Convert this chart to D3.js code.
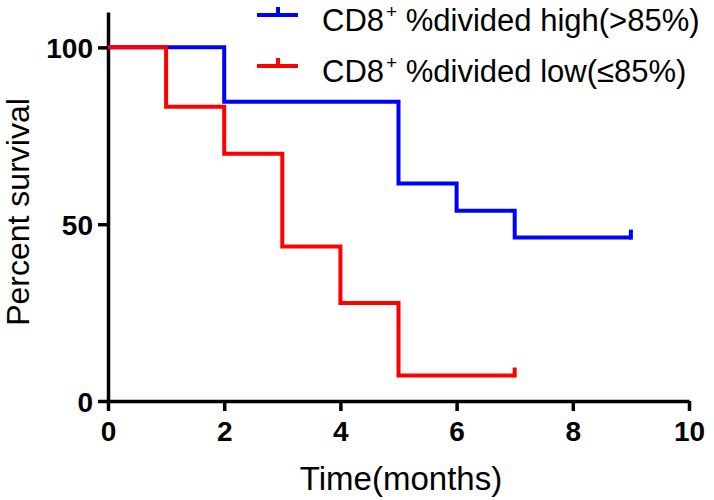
<!DOCTYPE html>
<html><head><meta charset="utf-8">
<script src="https://cdn.jsdelivr.net/npm/d3@7"></script>
<style>body{margin:0;background:#fff}svg{display:block}text{font-family:"Liberation Sans",Arial,sans-serif}</style>
</head><body>
<svg id="c" width="714" height="500"></svg>
<script>
const xTicks = [0, 2, 4, 6, 8, 10];
const yTicks = [0, 50, 100];
const highTimes = [0, 2, 5, 6, 7, 9];
const highSurv = [100, 84.6, 61.5, 53.8, 46.2, 46.2];
const lowTimes = [0, 1, 2, 3, 4, 5, 7];
const lowSurv = [100, 83.2, 69.9, 43.7, 27.7, 7.2, 7.2];
const highCensor = [9];
const lowCensor = [7];
const seriesNames = ["high(>85%)", "low(\u226485%)"];
const seriesColors = ["#0000ff", "#ff0000"];

const svg = d3.select("#c");
const x = d3.scaleLinear().domain([0, 10]).range([108, 689]);
const y = d3.scaleLinear().domain([0, 110]).range([401, 12]);

// axes
const xAxis = svg.append("g").attr("transform", `translate(0,${y(0)})`)
  .call(d3.axisBottom(x).tickValues(xTicks).tickSize(10).tickPadding(10).tickSizeOuter(0));
const yAxis = svg.append("g").attr("transform", `translate(${x(0)},0)`)
  .call(d3.axisLeft(y).tickValues(yTicks).tickSize(10).tickPadding(5).tickSizeOuter(0));
[xAxis, yAxis].forEach(a => {
  a.selectAll("path.domain").attr("stroke", "#000").attr("stroke-width", 3.5);
  a.selectAll(".tick line").attr("stroke", "#000").attr("stroke-width", 3.5);
  a.selectAll(".tick text").attr("fill", "#000").attr("font-size", 28).attr("font-weight", "bold")
    .attr("font-family", '"Liberation Sans",Arial,sans-serif');
});
yAxis.selectAll(".tick text").attr("dy", "0.36em");

// curves
const line = d3.line().x(d => x(d[0])).y(d => y(d[1])).curve(d3.curveStepAfter);
function drawSeries(times, surv, censor, color) {
  const pts = times.map((t, i) => [t, surv[i]]);
  svg.append("path").attr("d", line(pts)).attr("fill", "none")
    .attr("stroke", color).attr("stroke-width", 4).attr("stroke-linejoin", "miter");
  const last = surv[surv.length - 1];
  svg.selectAll(null).data(censor).enter().append("line")
    .attr("x1", d => x(d)).attr("x2", d => x(d))
    .attr("y1", y(last) + 2).attr("y2", y(last) - 8)
    .attr("stroke", color).attr("stroke-width", 4);
}
drawSeries(highTimes, highSurv, highCensor, seriesColors[0]);
drawSeries(lowTimes, lowSurv, lowCensor, seriesColors[1]);

// legend
const leg = svg.append("g");
seriesNames.forEach((name, i) => {
  const ly = 15 + i * 51;
  leg.append("line").attr("x1", 257).attr("x2", 298).attr("y1", ly).attr("y2", ly)
    .attr("stroke", seriesColors[i]).attr("stroke-width", 4);
  leg.append("line").attr("x1", 278).attr("x2", 278).attr("y1", ly).attr("y2", ly - 8)
    .attr("stroke", seriesColors[i]).attr("stroke-width", 4);
  const t = leg.append("text").attr("x", 322).attr("y", ly + 16).attr("font-size", 31).attr("fill", "#000");
  t.append("tspan").text("CD8");
  t.append("tspan").attr("font-size", 19).attr("dy", -13).attr("dx", 2).text("+");
  t.append("tspan").attr("dy", 13).text(" %divided " + name);
});

// axis titles
svg.append("text").attr("x", 401).attr("y", 490).attr("text-anchor", "middle")
  .attr("font-size", 33).attr("fill", "#000").text("Time(months)");
svg.append("text").attr("transform", "translate(29,212) rotate(-90)").attr("text-anchor", "middle")
  .attr("font-size", 32).attr("fill", "#000").text("Percent survival");
</script>
</body></html>
